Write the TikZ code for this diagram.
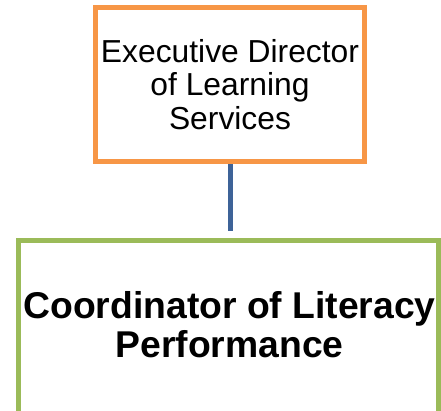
\documentclass[tikz,border=0pt]{standalone}
\usepackage{fontspec}
\setmainfont{Liberation Sans}
\usepackage{tikz}
\usetikzlibrary{positioning}
\definecolor{boxorange}{HTML}{F79646}
\definecolor{boxgreen}{HTML}{9BBB59}
\definecolor{linkblue}{HTML}{3E6398}
\newcommand{\orgtop}[3] {\node at (#1) (#2) [draw=boxorange, line width=5pt, minimum width=269pt, minimum height=154pt, align=center, font=\fontsize{31.8}{33.5}\selectfont] {#3};}
\newcommand{\orgbottom}[2] {\node at (#1) (#2) [draw=boxgreen, line width=5pt, anchor=north, minimum width=420pt, minimum height=200pt] {};}
\newcommand{\orglink}[2] {\draw [linkblue, line width=5pt] (#1) -- ([yshift=6.5pt]#1 |- #2);}

\begin{document}
\begin{tikzpicture}[x=1pt, y=-1pt]
\useasboundingbox (0,0) rectangle (441,410);
\clip (0,0) rectangle (441,410);
\orgtop {230,84.5} {director} {Executive Director\\of Learning\\Services};
\orgbottom {228.5,237.5} {coordinator};
\node at (229.5,324.5) (coordtext) [align=center, font=\bfseries\fontsize{37.3}{38.5}\selectfont] {Coordinator of Literacy\\Performance};

\orglink{director.south}{coordinator.north};
\end{tikzpicture}
\end{document}
